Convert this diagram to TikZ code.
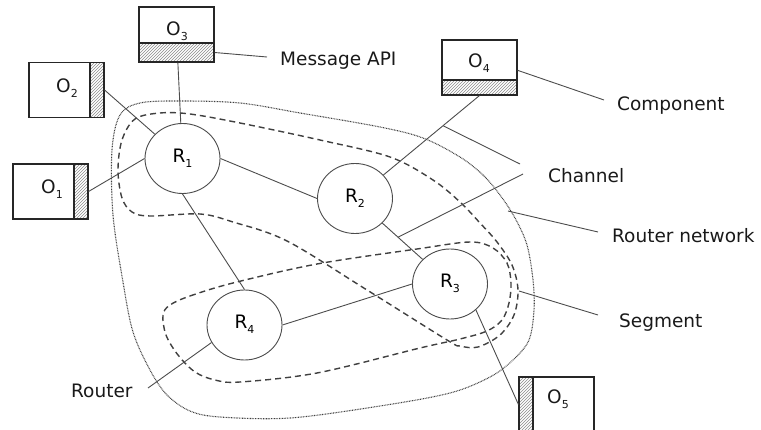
\documentclass[tikz,border=0pt]{standalone}
\usepackage{fontspec}
\setmainfont{DejaVu Sans}
\usetikzlibrary{calc,patterns,shapes.geometric}
% small lowered index used in the object and router names
\newcommand\osub[1]{\raisebox{-0.25em}{\fontsize{11}{11}\selectfont #1}}

\begin{document}
\begin{tikzpicture}[x=1pt,y=-1pt,
  every node/.style={font=\fontsize{18.5}{22}\selectfont},
  wire/.style={draw=black!70, line width=0.9pt},
  objbox/.style={draw=black!85, line width=1.1pt, fill=white,
    minimum width=75pt, minimum height=55pt, inner sep=0pt},
  apistrip/.style={draw=black!85, line width=1.1pt, pattern=north east lines,
    pattern color=black!45, inner sep=0pt},
  router/.style={draw=black!70, line width=0.9pt, ellipse, fill=white,
    minimum width=75pt, minimum height=70pt, inner sep=0pt,
    text height=13pt, text depth=5pt},
  tag/.style={anchor=base west, inner sep=0pt, text=black!90},
  groupline/.style={draw=black!75, line width=1.4pt, dash pattern=on 6pt off 4pt},
  netline/.style={draw=black!75, line width=1.1pt, dash pattern=on 0.8pt off 0.8pt},
]
\useasboundingbox (0,0) rectangle (761,430);

% router network boundary
\draw[netline] plot[smooth cycle, tension=0.55] coordinates {
  (112,150) (113,215) (123,282) (133,332) (150,370) (167,395) (190,411)
  (220,417) (290,418) (380,406) (450,393) (490,377) (513,360) (529,340)
  (534,310) (533,280) (527,245) (515,218) (500,195) (483,175) (460,157)
  (423,138) (380,127) (300,113) (240,103) (180,101) (140,103) (120,115)};

% channel R1 - R2 - R3
\draw[groupline] plot[smooth cycle, tension=0.55] coordinates {
  (135,119) (160,113) (190,114) (240,123) (320,140) (390,157) (433,180)
  (460,202) (480,223) (497,242) (512,265) (518,290) (514,315) (500,335)
  (478,347) (460,346) (447,340) (367,290) (287,241) (233,222) (200,214)
  (150,216) (132,212) (122,198) (118,170) (122,140)};

% segment R4 - R3
\draw[groupline] plot[smooth cycle, tension=0.55] coordinates {
  (170,305) (190,296) (233,283) (317,264) (417,249) (470,242) (493,248)
  (507,263) (511,283) (509,303) (502,320) (487,331) (460,339) (420,348)
  (317,373) (240,382) (215,380) (195,372) (178,355) (166,335) (163,315)};

% objects with their message API strips
\node[objbox] (o3) at (176.5,34.5) {};
\node[apistrip, minimum width=75pt, minimum height=19pt, anchor=south] (o3api) at (o3.south) {};
\node[objbox] (o2) at (66.5,90) {};
\node[apistrip, minimum width=14pt, minimum height=55pt, anchor=east] (o2api) at (o2.east) {};
\node[objbox] (o1) at (50.5,191.5) {};
\node[apistrip, minimum width=14pt, minimum height=55pt, anchor=east] (o1api) at (o1.east) {};
\node[objbox] (o4) at (479.5,67.5) {};
\node[apistrip, minimum width=75pt, minimum height=15pt, anchor=south] (o4api) at (o4.south) {};
\node[objbox] (o5) at (556.5,404.5) {};
\node[apistrip, minimum width=14pt, minimum height=55pt, anchor=west] (o5api) at (o5.west) {};

\node[tag] (o3txt) at (166,36) {O\osub{3}};
\node[tag] (o2txt) at (56,93) {O\osub{2}};
\node[tag] (o1txt) at (41,194) {O\osub{1}};
\node[tag] (o4txt) at (468,68) {O\osub{4}};
\node[tag] (o5txt) at (547,404) {O\osub{5}};

% routers
\node[router] (r1) at (182.5,158.5) {R\osub{1}};
\node[router] (r2) at (355,198.5) {R\osub{2}};
\node[router] (r3) at (450,284) {R\osub{3}};
\node[router] (r4) at (244.5,325) {R\osub{4}};

% links
\draw[wire] (o3) -- (r1);
\draw[wire] (o2.east) -- (r1);
\draw[wire] (o1.east) -- (r1.west);
\draw[wire] (r1.east) -- (r2.west);
\draw[wire] (r1.south) -- (r4.north);
\draw[wire] (o4.south) -- (r2);
\draw[wire] (r2) -- (r3);
\draw[wire] (r4.east) -- (r3.west);
\draw[wire] (r3.-45) -- (o5.west);

% annotations
\coordinate (apiend) at (267,57);
\draw[wire] (o3api.east) -- (apiend);
\node[tag] (lapi) at (280,66) {Message API};

\coordinate (compfrom) at ($(o4.north east)!0.55!(o4.south east)$);
\coordinate (compend) at (604,100);
\draw[wire] (compfrom) -- (compend);
\node[tag] (lcomp) at (617,111) {Component};

\coordinate (chA) at ($(o4.south)!0.293!(r2.center)$);
\coordinate (chB) at ($(r2)!0.453!(r3)$);
\coordinate (chAend) at (520,164);
\coordinate (chBend) at (523,174);
\draw[wire] (chA) -- (chAend);
\draw[wire] (chB) -- (chBend);
\node[tag] (lchan) at (548,183) {Channel};

\coordinate (netpt) at (508,211);
\coordinate (netend) at (598,232);
\draw[wire] (netpt) -- (netend);
\node[tag] (lnet) at (612,243) {Router network};

\coordinate (segpt) at (519,291);
\coordinate (segend) at (598,315);
\draw[wire] (segpt) -- (segend);
\node[tag] (lseg) at (619,328) {Segment};

\coordinate (routerend) at (148,388);
\draw[wire] (r4.208) -- (routerend);
\node[tag] (lrouter) at (71,398) {Router};
\end{tikzpicture}
\end{document}
